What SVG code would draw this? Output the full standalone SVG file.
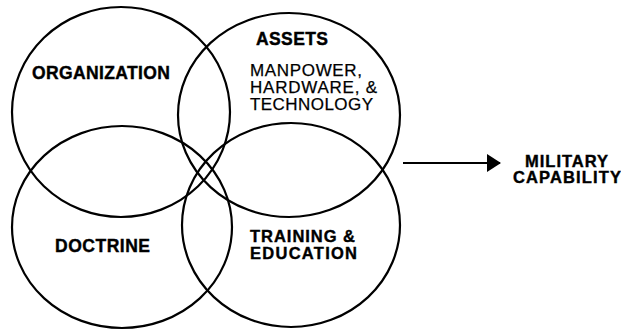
<svg xmlns="http://www.w3.org/2000/svg" width="621" height="330" viewBox="0 0 621 330">
<style>
.c{fill:none;stroke:#000;stroke-width:2.2}
.b{font-family:"Liberation Sans",Arial,sans-serif;font-weight:bold;font-size:17.5px;fill:#000;stroke:#000;stroke-width:0.4}
.r{font-family:"Liberation Sans",Arial,sans-serif;font-size:17px;fill:#000;stroke:#000;stroke-width:0.25}
.t{font-size:16.5px}
</style>
<defs>
<marker id="ah" markerWidth="14" markerHeight="18" refX="13" refY="9" orient="auto" markerUnits="userSpaceOnUse">
<path d="M0,0 L14,9 L0,18 Z" fill="#000"/>
</marker>
</defs>
<g id="organization"><ellipse class="c" cx="121" cy="112" rx="109" ry="105"/><text class="b" x="32" y="79" textLength="138">ORGANIZATION</text></g>
<g id="assets"><ellipse class="c" cx="289" cy="115" rx="111" ry="102"/><text class="b" x="256" y="45" textLength="72">ASSETS</text><text class="r" x="250" y="75.5" textLength="112">MANPOWER,</text><text class="r" x="250" y="92.7" textLength="127">HARDWARE, &amp;</text><text class="r" x="250" y="110" textLength="123">TECHNOLOGY</text></g>
<g id="doctrine"><ellipse class="c" cx="122" cy="227" rx="110" ry="101"/><text class="b" x="55" y="252" textLength="95">DOCTRINE</text></g>
<g id="training"><ellipse class="c" cx="291" cy="225" rx="109" ry="102"/><text class="b t" x="250" y="242.3" textLength="105">TRAINING &amp;</text><text class="b t" x="250" y="258.6" textLength="107">EDUCATION</text></g>
<g id="capability"><text class="b t" x="566.5" y="166.6" text-anchor="middle" textLength="83">MILITARY</text><text class="b t" x="567" y="182.9" text-anchor="middle" textLength="108">CAPABILITY</text></g>
<g id="connectors"><line x1="403" y1="163" x2="500" y2="163" stroke="#000" stroke-width="2.2" marker-end="url(#ah)"/></g>
</svg>
